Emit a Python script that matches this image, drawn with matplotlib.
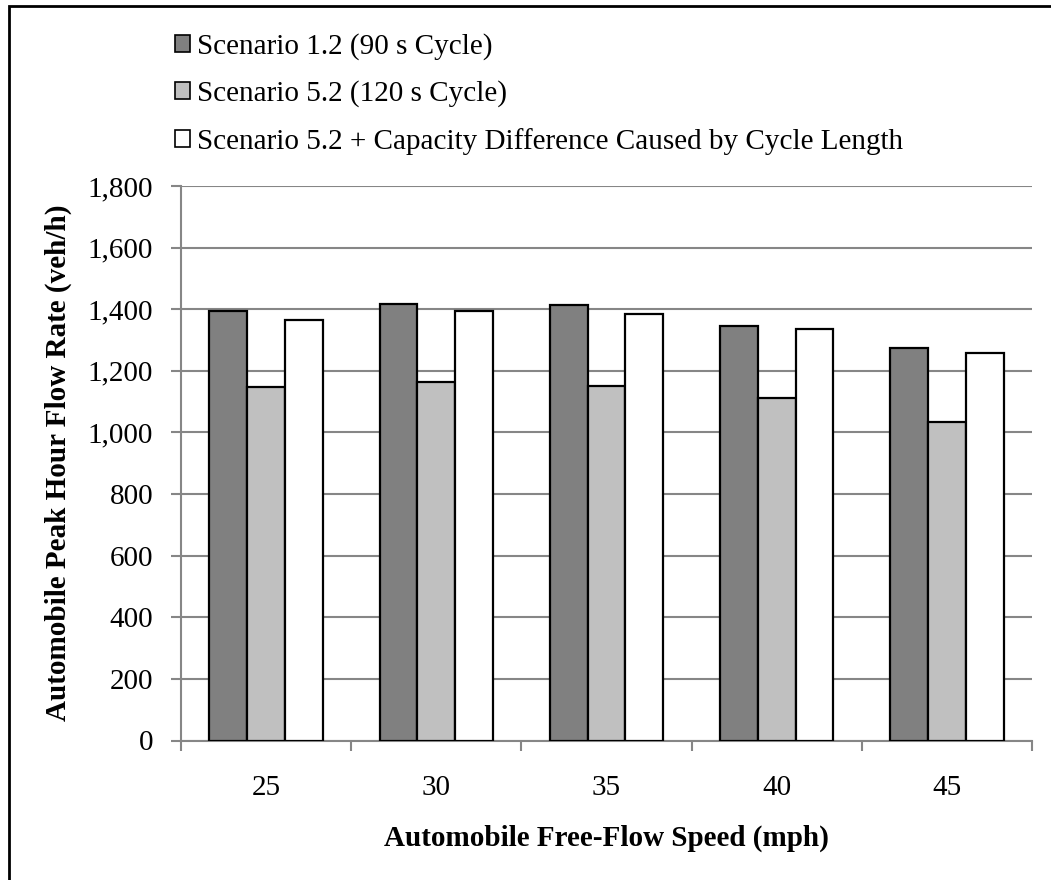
import numpy as np
import matplotlib
matplotlib.use('Agg')
import matplotlib.pyplot as plt
from matplotlib.patches import Patch, Rectangle
from matplotlib.ticker import FuncFormatter

plt.rcParams['font.family'] = ['Liberation Serif', 'DejaVu Serif']

speeds = ['25', '30', '35', '40', '45']
scen_12 = [1393, 1418, 1413, 1346, 1275]
scen_52 = [1147, 1165, 1151, 1111, 1034]
scen_52_adj = [1364, 1393, 1384, 1335, 1259]

names = ['Scenario 1.2 (90 s Cycle)',
         'Scenario 5.2 (120 s Cycle)',
         'Scenario 5.2 + Capacity Difference Caused by Cycle Length']
fills = ['#808080', '#c0c0c0', '#ffffff']
grid_c = '#868686'
fs = 21

fig = plt.figure(figsize=(10.51, 8.8), dpi=100)
ax = fig.add_axes([181/1051, 1-740.5/880, 851/1051, 554.5/880])

x = np.arange(len(speeds))
w = 1/4.5
for i, (vals, c) in enumerate(zip([scen_12, scen_52, scen_52_adj], fills)):
    ax.bar(x + (i-1)*w, vals, w, color=c, edgecolor='black', linewidth=1.6, zorder=3)

ax.set_xlim(-0.5, len(speeds)-0.5)
ax.set_ylim(0, 1800)
ax.set_yticks(np.arange(0, 1801, 200))
ax.yaxis.set_major_formatter(FuncFormatter(lambda v, p: '{:,.0f}'.format(v)))
ax.grid(axis='y', color=grid_c, linewidth=1.5, zorder=0)

# category boundaries get the tick marks, labels sit at the centres
ax.set_xticks(np.arange(-0.5, len(speeds)))
ax.set_xticklabels([])
ax.set_xticks(x, minor=True)
ax.set_xticklabels(speeds, minor=True)
ax.tick_params(axis='x', which='major', length=7, width=1.5, color=grid_c)
ax.tick_params(axis='x', which='minor', length=0, pad=25, labelsize=fs)
ax.tick_params(axis='y', length=7, width=1.5, color=grid_c, pad=13, labelsize=fs)

for s in ['top', 'right']:
    ax.spines[s].set_visible(False)
for s in ['left', 'bottom']:
    ax.spines[s].set_color(grid_c)
    ax.spines[s].set_linewidth(1.5)

fig.text(58/1051, 1-463/880, 'Automobile Peak Hour Flow Rate (veh/h)', rotation=90,
         ha='center', va='center', fontsize=fs, fontweight='bold')
fig.text(606/1051, 1-838/880, 'Automobile Free-Flow Speed (mph)',
         ha='center', va='center', fontsize=fs, fontweight='bold')

handles = [Patch(facecolor=c, edgecolor='black', linewidth=1.2) for c in fills]
fig.legend(handles, names, loc='upper left', bbox_to_anchor=(175/1051, 1-33/880),
           frameon=False, fontsize=fs, handlelength=0.5, handleheight=0.5,
           handletextpad=0.25, labelspacing=0.7, borderpad=0, borderaxespad=0)

# outer chart border
fig.patches.append(Rectangle((9/1051, -0.05), 1.1, 1-6/880+0.05, transform=fig.transFigure,
                             fill=False, edgecolor='black', linewidth=2))

fig.savefig('out.png', dpi=100)
